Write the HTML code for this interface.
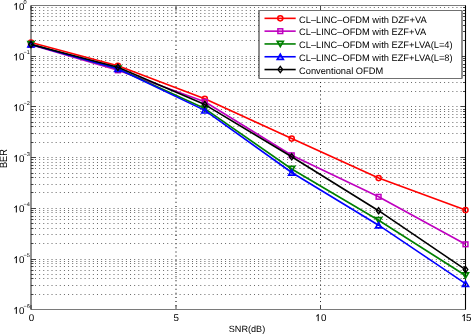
<!DOCTYPE html>
<html><head><meta charset="utf-8"><style>html,body{margin:0;padding:0;background:#fff;width:471px;height:334px;overflow:hidden}svg{display:block;will-change:transform}text{font-family:"Liberation Sans",sans-serif;text-rendering:geometricPrecision}</style></head>
<body>
<svg width="471" height="334" viewBox="0 0 471 334">
<rect width="471" height="334" fill="#fff"/>
<path d="M30.868,56.5H465.0 M30.868,40.5H465.0 M30.868,31.5H465.0 M30.868,25.5H465.0 M30.868,20.5H465.0 M30.868,16.5H465.0 M30.868,13.5H465.0 M30.868,10.5H465.0 M30.868,7.5H465.0 M30.868,106.5H465.0 M30.868,91.5H465.0 M30.868,82.5H465.0 M30.868,75.5H465.0 M30.868,71.5H465.0 M30.868,67.5H465.0 M30.868,64.5H465.0 M30.868,60.5H465.0 M30.868,58.5H465.0 M30.868,157.5H465.0 M30.868,142.5H465.0 M30.868,133.5H465.0 M30.868,126.5H465.0 M30.868,122.5H465.0 M30.868,117.5H465.0 M30.868,114.5H465.0 M30.868,111.5H465.0 M30.868,109.5H465.0 M30.868,208.5H465.0 M30.868,192.5H465.0 M30.868,184.5H465.0 M30.868,177.5H465.0 M30.868,173.5H465.0 M30.868,168.5H465.0 M30.868,165.5H465.0 M30.868,162.5H465.0 M30.868,159.5H465.0 M30.868,259.5H465.0 M30.868,243.5H465.0 M30.868,234.5H465.0 M30.868,228.5H465.0 M30.868,223.5H465.0 M30.868,219.5H465.0 M30.868,216.5H465.0 M30.868,212.5H465.0 M30.868,210.5H465.0 M30.868,294.5H465.0 M30.868,285.5H465.0 M30.868,278.5H465.0 M30.868,274.5H465.0 M30.868,270.5H465.0 M30.868,266.5H465.0 M30.868,263.5H465.0 M30.868,261.5H465.0" stroke="#686868" stroke-width="1" stroke-dasharray="1 3.132" fill="none"/>
<path d="M176.0,7.66V309" stroke="#6a6a6a" stroke-width="1.8" stroke-dasharray="1 3.132" fill="none"/>
<path d="M320.5,7.66V309" stroke="#222" stroke-width="1" stroke-dasharray="1 3.132" fill="none"/>
<path d="M31.0,5.5h5M465.5,5.5h-5 M31.0,40.5h2.5M465.5,40.5h-2.5 M31.0,31.5h2.5M465.5,31.5h-2.5 M31.0,25.5h2.5M465.5,25.5h-2.5 M31.0,20.5h2.5M465.5,20.5h-2.5 M31.0,16.5h2.5M465.5,16.5h-2.5 M31.0,13.5h2.5M465.5,13.5h-2.5 M31.0,10.5h2.5M465.5,10.5h-2.5 M31.0,7.5h2.5M465.5,7.5h-2.5 M31.0,56.5h5M465.5,56.5h-5 M31.0,91.5h2.5M465.5,91.5h-2.5 M31.0,82.5h2.5M465.5,82.5h-2.5 M31.0,75.5h2.5M465.5,75.5h-2.5 M31.0,71.5h2.5M465.5,71.5h-2.5 M31.0,67.5h2.5M465.5,67.5h-2.5 M31.0,64.5h2.5M465.5,64.5h-2.5 M31.0,60.5h2.5M465.5,60.5h-2.5 M31.0,58.5h2.5M465.5,58.5h-2.5 M31.0,106.5h5M465.5,106.5h-5 M31.0,142.5h2.5M465.5,142.5h-2.5 M31.0,133.5h2.5M465.5,133.5h-2.5 M31.0,126.5h2.5M465.5,126.5h-2.5 M31.0,122.5h2.5M465.5,122.5h-2.5 M31.0,117.5h2.5M465.5,117.5h-2.5 M31.0,114.5h2.5M465.5,114.5h-2.5 M31.0,111.5h2.5M465.5,111.5h-2.5 M31.0,109.5h2.5M465.5,109.5h-2.5 M31.0,157.5h5M465.5,157.5h-5 M31.0,192.5h2.5M465.5,192.5h-2.5 M31.0,184.5h2.5M465.5,184.5h-2.5 M31.0,177.5h2.5M465.5,177.5h-2.5 M31.0,173.5h2.5M465.5,173.5h-2.5 M31.0,168.5h2.5M465.5,168.5h-2.5 M31.0,165.5h2.5M465.5,165.5h-2.5 M31.0,162.5h2.5M465.5,162.5h-2.5 M31.0,159.5h2.5M465.5,159.5h-2.5 M31.0,208.5h5M465.5,208.5h-5 M31.0,243.5h2.5M465.5,243.5h-2.5 M31.0,234.5h2.5M465.5,234.5h-2.5 M31.0,228.5h2.5M465.5,228.5h-2.5 M31.0,223.5h2.5M465.5,223.5h-2.5 M31.0,219.5h2.5M465.5,219.5h-2.5 M31.0,216.5h2.5M465.5,216.5h-2.5 M31.0,212.5h2.5M465.5,212.5h-2.5 M31.0,210.5h2.5M465.5,210.5h-2.5 M31.0,259.5h5M465.5,259.5h-5 M31.0,294.5h2.5M465.5,294.5h-2.5 M31.0,285.5h2.5M465.5,285.5h-2.5 M31.0,278.5h2.5M465.5,278.5h-2.5 M31.0,274.5h2.5M465.5,274.5h-2.5 M31.0,270.5h2.5M465.5,270.5h-2.5 M31.0,266.5h2.5M465.5,266.5h-2.5 M31.0,263.5h2.5M465.5,263.5h-2.5 M31.0,261.5h2.5M465.5,261.5h-2.5 M31.0,309.5h5M465.5,309.5h-5 M31.0,309.5v-4.5M31.0,5.5v4.5 M176.0,309.5v-4.5M176.0,5.5v4.5 M320.5,309.5v-4.5M320.5,5.5v4.5 M465.5,309.5v-4.5M465.5,5.5v4.5" stroke="#444" stroke-width="1" fill="none"/>
<path d="M31.0,5.5H465.5M31.0,309.5H465.5" stroke="#7a7a7a" stroke-width="1.1" fill="none"/>
<path d="M31.0,5.5V309.5" stroke="#222" stroke-width="1" fill="none"/>
<path d="M465.5,5.5V309.5" stroke="#000" stroke-width="1.1" fill="none"/>
<polyline points="31.00,42.50 117.90,65.70 204.80,98.80 291.70,138.60 378.60,178.10 465.50,210.10" fill="none" stroke="#ff0000" stroke-width="1.6" stroke-linejoin="round"/>
<circle cx="31.00" cy="42.50" r="2.55" fill="none" stroke="#ff0000" stroke-width="1.5"/>
<circle cx="117.90" cy="65.70" r="2.55" fill="none" stroke="#ff0000" stroke-width="1.5"/>
<circle cx="204.80" cy="98.80" r="2.55" fill="none" stroke="#ff0000" stroke-width="1.5"/>
<circle cx="291.70" cy="138.60" r="2.55" fill="none" stroke="#ff0000" stroke-width="1.5"/>
<circle cx="378.60" cy="178.10" r="2.55" fill="none" stroke="#ff0000" stroke-width="1.5"/>
<circle cx="465.50" cy="210.10" r="2.55" fill="none" stroke="#ff0000" stroke-width="1.5"/>
<polyline points="31.00,44.80 117.90,70.30 204.80,101.80 291.70,155.30 378.60,196.80 465.50,244.30" fill="none" stroke="#bf00bf" stroke-width="1.6" stroke-linejoin="round"/>
<rect x="28.60" y="42.45" width="4.8" height="4.7" fill="none" stroke="#bf00bf" stroke-width="1.5"/>
<rect x="115.50" y="67.95" width="4.8" height="4.7" fill="none" stroke="#bf00bf" stroke-width="1.5"/>
<rect x="202.40" y="99.45" width="4.8" height="4.7" fill="none" stroke="#bf00bf" stroke-width="1.5"/>
<rect x="289.30" y="152.95" width="4.8" height="4.7" fill="none" stroke="#bf00bf" stroke-width="1.5"/>
<rect x="376.20" y="194.45" width="4.8" height="4.7" fill="none" stroke="#bf00bf" stroke-width="1.5"/>
<rect x="463.10" y="241.95" width="4.8" height="4.7" fill="none" stroke="#bf00bf" stroke-width="1.5"/>
<polyline points="31.00,44.30 117.90,68.80 204.80,108.60 291.70,169.00 378.60,220.30 465.50,275.50" fill="none" stroke="#008000" stroke-width="1.6" stroke-linejoin="round"/>
<path d="M28.00,41.70H34.00L31.00,46.90Z" fill="none" stroke="#008000" stroke-width="1.7"/>
<path d="M114.90,66.20H120.90L117.90,71.40Z" fill="none" stroke="#008000" stroke-width="1.7"/>
<path d="M201.80,106.00H207.80L204.80,111.20Z" fill="none" stroke="#008000" stroke-width="1.7"/>
<path d="M288.70,166.40H294.70L291.70,171.60Z" fill="none" stroke="#008000" stroke-width="1.7"/>
<path d="M375.60,217.70H381.60L378.60,222.90Z" fill="none" stroke="#008000" stroke-width="1.7"/>
<path d="M462.50,272.90H468.50L465.50,278.10Z" fill="none" stroke="#008000" stroke-width="1.7"/>
<polyline points="31.00,44.40 117.90,68.80 204.80,110.40 291.70,172.50 378.60,225.20 465.50,283.70" fill="none" stroke="#0000ff" stroke-width="1.6" stroke-linejoin="round"/>
<path d="M28.00,47.00H34.00L31.00,41.80Z" fill="none" stroke="#0000ff" stroke-width="1.7"/>
<path d="M114.90,71.40H120.90L117.90,66.20Z" fill="none" stroke="#0000ff" stroke-width="1.7"/>
<path d="M201.80,113.00H207.80L204.80,107.80Z" fill="none" stroke="#0000ff" stroke-width="1.7"/>
<path d="M288.70,175.10H294.70L291.70,169.90Z" fill="none" stroke="#0000ff" stroke-width="1.7"/>
<path d="M375.60,227.80H381.60L378.60,222.60Z" fill="none" stroke="#0000ff" stroke-width="1.7"/>
<path d="M462.50,286.30H468.50L465.50,281.10Z" fill="none" stroke="#0000ff" stroke-width="1.7"/>
<polyline points="31.00,44.60 117.90,67.20 204.80,104.60 291.70,156.80 378.60,210.70 465.50,269.60" fill="none" stroke="#000000" stroke-width="1.6" stroke-linejoin="round"/>
<path d="M31.00,41.50L33.30,44.60L31.00,47.70L28.70,44.60Z" fill="none" stroke="#000000" stroke-width="1.35"/>
<path d="M117.90,64.10L120.20,67.20L117.90,70.30L115.60,67.20Z" fill="none" stroke="#000000" stroke-width="1.35"/>
<path d="M204.80,101.50L207.10,104.60L204.80,107.70L202.50,104.60Z" fill="none" stroke="#000000" stroke-width="1.35"/>
<path d="M291.70,153.70L294.00,156.80L291.70,159.90L289.40,156.80Z" fill="none" stroke="#000000" stroke-width="1.35"/>
<path d="M378.60,207.60L380.90,210.70L378.60,213.80L376.30,210.70Z" fill="none" stroke="#000000" stroke-width="1.35"/>
<path d="M465.50,266.50L467.80,269.60L465.50,272.70L463.20,269.60Z" fill="none" stroke="#000000" stroke-width="1.35"/>
<rect x="259.0" y="10.5" width="203.0" height="68.0" fill="#fff"/>
<path d="M258.5,10.5H462.5M258.5,78.5H462.5" stroke="#707070" stroke-width="1.05" fill="none"/>
<path d="M259.0,11.0V78.0M462.0,11.0V78.0" stroke="#2a2a2a" stroke-width="1.05" fill="none"/>
<path d="M264.5,18.35H295.7" stroke="#ff0000" stroke-width="1.6"/>
<circle cx="280.30" cy="18.35" r="2.55" fill="none" stroke="#ff0000" stroke-width="1.5"/>
<text x="299" y="22.60" font-size="9.3" fill="#000">CL–LINC–OFDM with DZF+VA</text>
<path d="M264.5,31.15H295.7" stroke="#bf00bf" stroke-width="1.6"/>
<rect x="277.90" y="28.80" width="4.8" height="4.7" fill="none" stroke="#bf00bf" stroke-width="1.5"/>
<text x="299" y="35.40" font-size="9.3" fill="#000">CL–LINC–OFDM with EZF+VA</text>
<path d="M264.5,43.95H295.7" stroke="#008000" stroke-width="1.6"/>
<path d="M277.30,41.35H283.30L280.30,46.55Z" fill="none" stroke="#008000" stroke-width="1.7"/>
<text x="299" y="48.20" font-size="9.3" fill="#000">CL–LINC–OFDM with EZF+LVA(L=4)</text>
<path d="M264.5,56.75H295.7" stroke="#0000ff" stroke-width="1.6"/>
<path d="M277.30,59.35H283.30L280.30,54.15Z" fill="none" stroke="#0000ff" stroke-width="1.7"/>
<text x="299" y="61.00" font-size="9.3" fill="#000">CL–LINC–OFDM with EZF+LVA(L=8)</text>
<path d="M264.5,69.55H295.7" stroke="#000000" stroke-width="1.6"/>
<path d="M280.30,66.45L282.60,69.55L280.30,72.65L278.00,69.55Z" fill="none" stroke="#000000" stroke-width="1.35"/>
<text x="299" y="73.80" font-size="9.3" fill="#000">Conventional OFDM</text>
<text x="24.35" y="9.80" font-size="9.8" text-anchor="end" fill="#000">0</text>
<text x="23.4" y="3.60" font-size="5.6" fill="#000">0</text>
<text x="24.35" y="60.47" font-size="9.8" text-anchor="end" fill="#000">0</text>
<text x="23.4" y="54.27" font-size="5.6" fill="#000">−1</text>
<text x="24.35" y="111.13" font-size="9.8" text-anchor="end" fill="#000">0</text>
<text x="23.4" y="104.93" font-size="5.6" fill="#000">−2</text>
<text x="24.35" y="161.80" font-size="9.8" text-anchor="end" fill="#000">0</text>
<text x="23.4" y="155.60" font-size="5.6" fill="#000">−3</text>
<text x="24.35" y="212.47" font-size="9.8" text-anchor="end" fill="#000">0</text>
<text x="23.4" y="206.27" font-size="5.6" fill="#000">−4</text>
<text x="24.35" y="263.13" font-size="9.8" text-anchor="end" fill="#000">0</text>
<text x="23.4" y="256.93" font-size="5.6" fill="#000">−5</text>
<text x="24.35" y="313.80" font-size="9.8" text-anchor="end" fill="#000">0</text>
<text x="23.4" y="307.60" font-size="5.6" fill="#000">−6</text>
<text x="31.50" y="321.1" font-size="9.8" text-anchor="middle" fill="#000">0</text>
<text x="176.30" y="321.1" font-size="9.8" text-anchor="middle" fill="#000">5</text>
<text x="326.45" y="321.1" font-size="9.8" text-anchor="end" fill="#000">0</text>
<text x="471.45" y="321.1" font-size="9.8" text-anchor="end" fill="#000">5</text>
<g><path d="M16.35,3.05V9.80M16.55,3.35L14.35,4.95" stroke="#000" stroke-width="1.0" fill="none"/><path d="M16.35,53.72V60.47M16.55,54.02L14.35,55.62" stroke="#000" stroke-width="1.0" fill="none"/><path d="M16.35,104.38V111.13M16.55,104.68L14.35,106.28" stroke="#000" stroke-width="1.0" fill="none"/><path d="M16.35,155.05V161.80M16.55,155.35L14.35,156.95" stroke="#000" stroke-width="1.0" fill="none"/><path d="M16.35,205.72V212.47M16.55,206.02L14.35,207.62" stroke="#000" stroke-width="1.0" fill="none"/><path d="M16.35,256.38V263.13M16.55,256.68L14.35,258.28" stroke="#000" stroke-width="1.0" fill="none"/><path d="M16.35,307.05V313.80M16.55,307.35L14.35,308.95" stroke="#000" stroke-width="1.0" fill="none"/><path d="M318.20,314.35V321.10M318.40,314.65L316.20,316.25" stroke="#000" stroke-width="1.0" fill="none"/><path d="M464.30,314.35V321.10M464.50,314.65L462.30,316.25" stroke="#000" stroke-width="1.0" fill="none"/></g>
<text x="247" y="331.9" font-size="9.1" text-anchor="middle" fill="#000">SNR(dB)</text>
<text transform="translate(7.0,158.6) rotate(-90) scale(0.96,1.1)" font-size="9.6" text-anchor="middle" fill="#000">BER</text>
</svg>
</body></html>
